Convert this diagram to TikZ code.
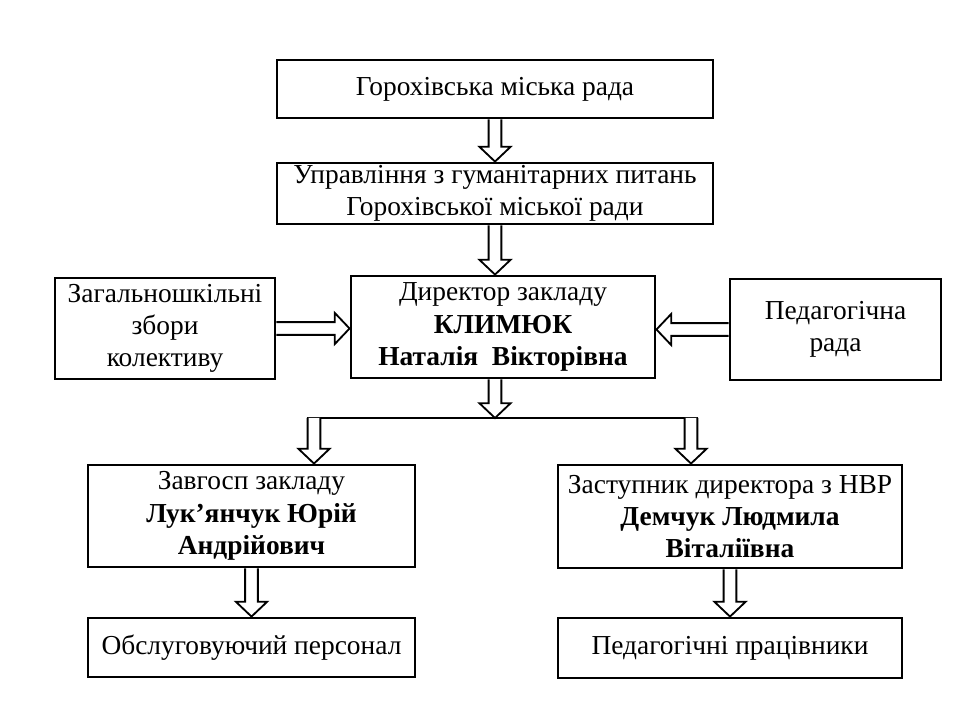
\documentclass[tikz,border=0pt]{standalone}
\usepackage{fontspec}
\setmainfont{Liberation Serif}
\usetikzlibrary{calc}
\tikzset{every picture/.style={line width=0.8pt}}
\tikzset{
  box/.style={draw, line width=2pt, align=center, inner sep=1pt, font=\fontsize{19.5}{23}\selectfont},
  barrow/.style={draw, line width=1.3pt, fill=white, line join=miter},
}
% hollow block arrow from #1 to #2
\newcommand{\blockarrow}[2]{%
  \path (#1) coordinate (ba-s) (#2) coordinate (ba-e);
  \path ($(ba-e)!0.37cm!(ba-s)$) coordinate (ba-h);
  \draw[barrow] ($(ba-s)!0.16cm!90:(ba-e)$) -- ($(ba-h)!0.16cm!90:(ba-e)$)
    -- ($(ba-h)!0.39cm!90:(ba-e)$) -- (ba-e) -- ($(ba-h)!0.39cm!-90:(ba-e)$)
    -- ($(ba-h)!0.16cm!-90:(ba-e)$) -- ($(ba-s)!0.16cm!-90:(ba-e)$);
}

\begin{document}
\begin{tikzpicture}[x=0.025cm, y=-0.025cm]
  \useasboundingbox (0,0) rectangle (960,720);
  \node[box, minimum width=10.9cm, minimum height=1.45cm] (rada) at (495,89) {Горохівська міська рада};
  \node[box, minimum width=10.9cm, minimum height=1.525cm] (upr) at (495,193.5) {Управління з гуманітарних питань\\Горохівської міської ради};
  \node[box, minimum width=7.6cm, minimum height=2.55cm] (dir) at (503,327) {Директор закладу\\\textbf{КЛИМЮК}\\\textbf{Наталія\ \ Вікторівна}};
  \node[box, minimum width=5.5cm, minimum height=2.525cm] (zbory) at (165,328.5) {Загальношкільні\\збори\\колективу};
  \node[box, minimum width=5.275cm, minimum height=2.525cm] (pedrada) at (835.5,329.5) {Педагогічна\\рада};
  \node[box, minimum width=8.175cm, minimum height=2.55cm] (zavh) at (251.5,516) {Завгосп закладу\\\textbf{Лук’янчук Юрій}\\\textbf{Андрійович}};
  \node[box, minimum width=8.6cm, minimum height=2.575cm] (zast) at (730,516.5) {Заступник директора з НВР\\\textbf{Демчук Людмила}\\\textbf{Віталіївна}};
  \node[box, minimum width=8.175cm, minimum height=1.475cm] (obsl) at (251.5,647.5) {Обслуговуючий персонал};
  \node[box, minimum width=8.6cm, minimum height=1.5cm] (pedprac) at (730,648) {Педагогічні працівники};

  \coordinate (split) at (495,418);
  \coordinate (lsplit) at (314,418);
  \coordinate (rsplit) at (691,418);

  \blockarrow{rada.south}{upr.north}
  \blockarrow{upr.south}{upr.south |- dir.north}
  \blockarrow{zbory.east}{zbory.east -| dir.west}
  \blockarrow{pedrada.west}{pedrada.west -| dir.east}
  \draw[line width=2pt] ($(lsplit)+(-7,0)$) -- ($(rsplit)+(7,0)$);
  \blockarrow{upr.south |- dir.south}{split}
  \blockarrow{lsplit}{lsplit |- zavh.north}
  \blockarrow{rsplit}{rsplit |- zast.north}
  \blockarrow{zavh.south}{obsl.north}
  \blockarrow{zast.south}{pedprac.north}
\end{tikzpicture}
\end{document}
